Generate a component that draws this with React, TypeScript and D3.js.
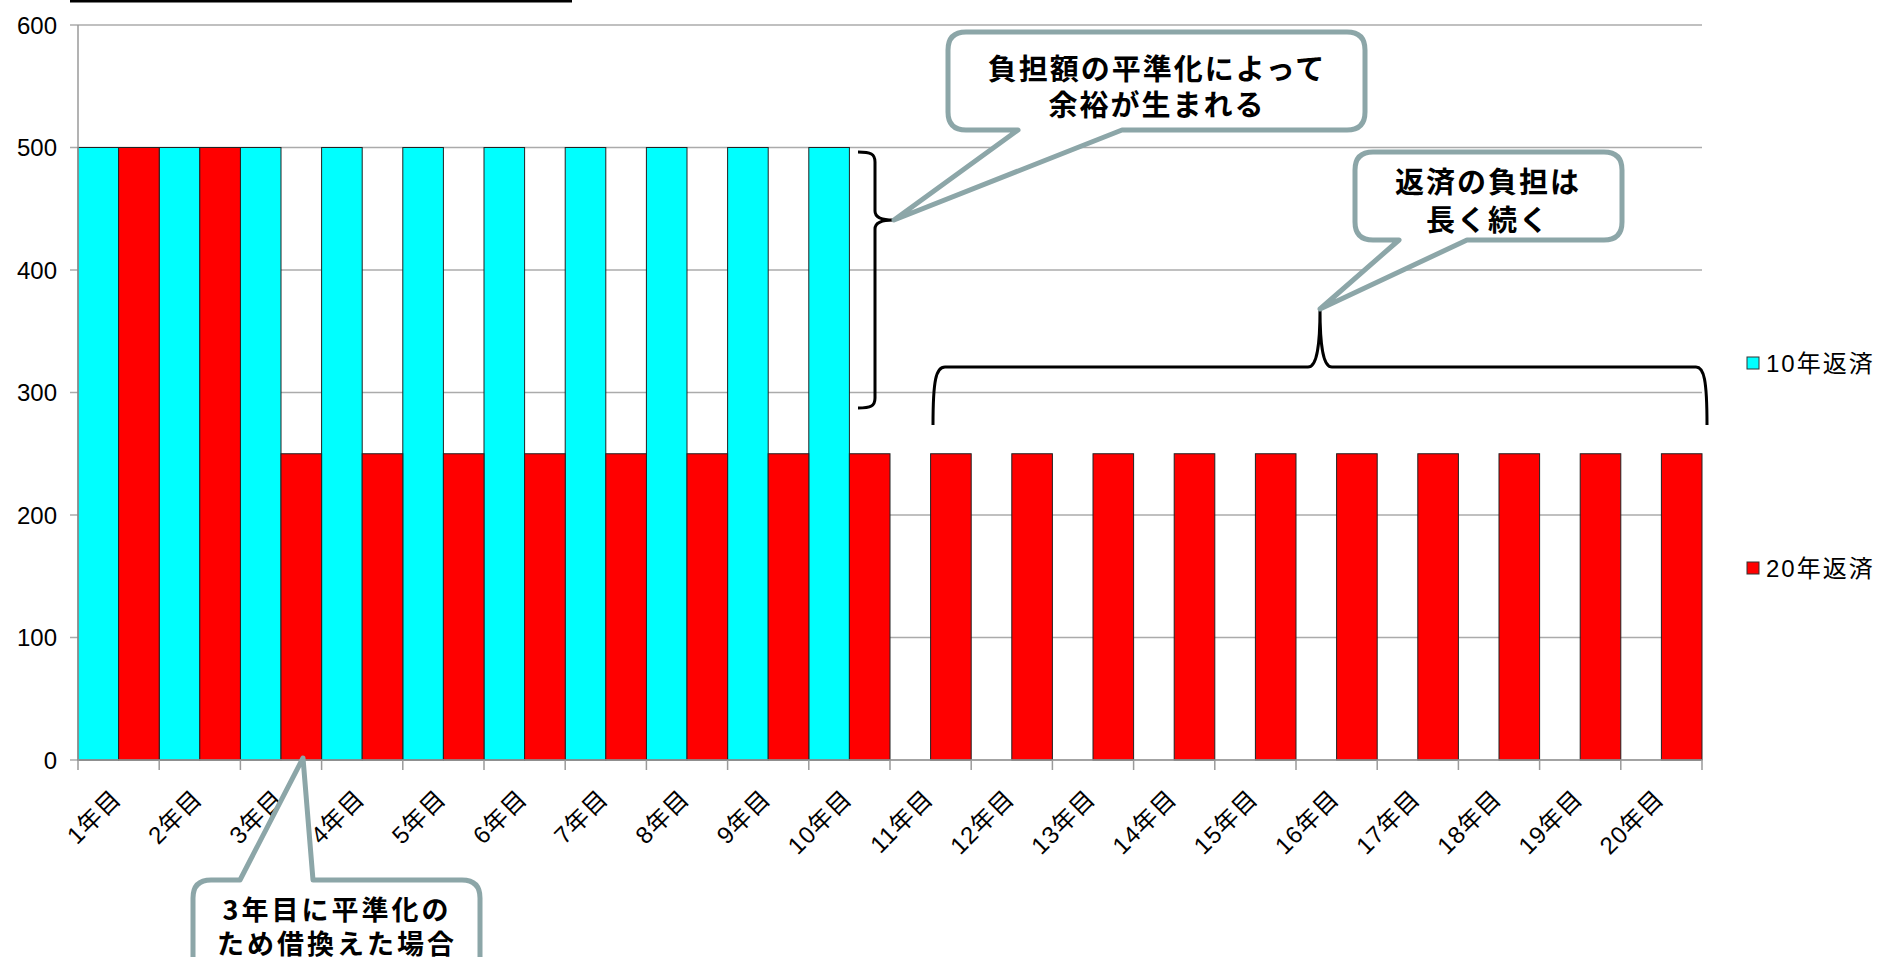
import React from "react";
import * as d3 from "d3";

const categories = ["1年目","2年目","3年目","4年目","5年目","6年目","7年目","8年目","9年目","10年目","11年目","12年目","13年目","14年目","15年目","16年目","17年目","18年目","19年目","20年目"];
const seriesNames = ["10年返済", "20年返済"];
const values10 = [500,500,500,500,500,500,500,500,500,500,null,null,null,null,null,null,null,null,null,null];
const values20 = [500,500,250,250,250,250,250,250,250,250,250,250,250,250,250,250,250,250,250,250];
const seriesColors = ["#00FFFF", "#FF0000"];
const yTicks = [0,100,200,300,400,500,600];
const callout1Lines = ["負担額の平準化によって", "余裕が生まれる"];
const callout2Lines = ["返済の負担は", "長く続く"];
const callout3Lines = ["3年目に平準化の", "ため借換えた場合"];

const W = 1882, H = 957;
const PL = 78, PR = 1702, PT = 25, PB = 760;
const CALLOUT_STROKE = "#8CA6A8";
const AXIS_FONT = "'Liberation Sans', Arial, 'Noto Sans CJK JP', sans-serif";
const CJK_BOLD = "'Noto Sans CJK JP', sans-serif";

function calloutBottomTail(x0: number, y0: number, x1: number, y1: number, r: number, b1: number, b2: number, tx: number, ty: number) {
  return `M${x0 + r},${y0} H${x1 - r} Q${x1},${y0} ${x1},${y0 + r} V${y1 - r} Q${x1},${y1} ${x1 - r},${y1} H${b2} L${tx},${ty} L${b1},${y1} H${x0 + r} Q${x0},${y1} ${x0},${y1 - r} V${y0 + r} Q${x0},${y0} ${x0 + r},${y0} Z`;
}
function calloutTopTail(x0: number, y0: number, x1: number, y1: number, r: number, b1: number, b2: number, tx: number, ty: number) {
  return `M${x0 + r},${y0} H${b1} L${tx},${ty} L${b2},${y0} H${x1 - r} Q${x1},${y0} ${x1},${y0 + r} V${y1 - r} Q${x1},${y1} ${x1 - r},${y1} H${x0 + r} Q${x0},${y1} ${x0},${y1 - r} V${y0 + r} Q${x0},${y0} ${x0 + r},${y0} Z`;
}

export default function App() {
  const x = d3.scaleBand<string>().domain(categories).range([PL, PR]).paddingInner(0).paddingOuter(0);
  const xs = d3.scaleBand<string>().domain(seriesNames).range([0, x.bandwidth()]).padding(0);
  const y = d3.scaleLinear().domain([0, 600]).range([PB, PT]);
  const series = [values10, values20];

  const boundaries = categories.map((c) => x(c)!).concat([PR]);

  const bigText = { fontFamily: CJK_BOLD, fontWeight: 700, fontSize: 29, letterSpacing: 2 } as React.CSSProperties;
  const smallText = { fontFamily: CJK_BOLD, fontWeight: 700, fontSize: 27, letterSpacing: 3 } as React.CSSProperties;

  return (
    <svg width={W} height={H} style={{ position: "absolute", left: 0, top: 0, background: "#fff" }}>
      <line x1={70} x2={572} y1={1} y2={1} stroke="#000" strokeWidth={3} />
      {yTicks.map((t) => (
        <line key={"g" + t} x1={70} x2={PR} y1={y(t)} y2={y(t)} stroke="#ABABAB" strokeWidth={1.5} />
      ))}
      {yTicks.map((t) => (
        <text key={"yl" + t} x={57} y={y(t)} textAnchor="end" dominantBaseline="central" fontFamily={AXIS_FONT} fontSize={24} fill="#000">{t}</text>
      ))}
      {series.map((vals, si) =>
        categories.map((c, i) => {
          const v = vals[i];
          if (v == null) return null;
          return (
            <rect key={si + "-" + c} x={x(c)! + xs(seriesNames[si])!} y={y(v)} width={xs.bandwidth()} height={PB - y(v)}
              fill={seriesColors[si]} stroke="#222" strokeWidth={1} />
          );
        })
      )}
      <line x1={PL} x2={PL} y1={PT} y2={PB} stroke="#9A9A9A" strokeWidth={1.5} />
      <line x1={PL} x2={PR} y1={PB} y2={PB} stroke="#9A9A9A" strokeWidth={1.5} />
      {boundaries.map((b, i) => (
        <line key={"xt" + i} x1={b} x2={b} y1={PB} y2={PB + 10} stroke="#9A9A9A" strokeWidth={1.5} />
      ))}
      {categories.map((c) => {
        const px = x(c)! + x.bandwidth() / 2 - 2;
        const py = 794;
        return (
          <text key={"xl" + c} x={px} y={py} textAnchor="end" dominantBaseline="central" fontFamily={AXIS_FONT} fontSize={24}
            letterSpacing={1} transform={`rotate(-45 ${px} ${py})`} fill="#000">{c}</text>
        );
      })}
      {seriesNames.map((s, i) => {
        const ly = i === 0 ? 363 : 568;
        return (
          <g key={"lg" + s}>
            <rect x={1747} y={ly - 6} width={12} height={12} fill={seriesColors[i]} stroke="#333" strokeWidth={1} />
            <text x={1766} y={ly} dominantBaseline="central" fontFamily={AXIS_FONT} fontSize={24} letterSpacing={2} fill="#000">{s}</text>
          </g>
        );
      })}
      <path d="M858,152 C871,152 875,154 875,162 V211 C875,217 880,220 893,220 C880,220 875,223 875,229 V398 C875,406 871,408 858,408"
        fill="none" stroke="#000" strokeWidth={3} />
      <path d="M933,425 C933,380 936,367 945,367 H1308 C1316,367 1320,350 1320,309 C1320,350 1324,367 1332,367 H1696 C1704,367 1707,380 1707,425"
        fill="none" stroke="#000" strokeWidth={3} />
      <path d={calloutBottomTail(948, 32, 1365, 130, 18, 1018, 1122, 894, 220)} fill="#fff" stroke={CALLOUT_STROKE} strokeWidth={5} strokeLinejoin="round" />
      <path d={calloutBottomTail(1355, 152, 1622, 240, 18, 1399, 1467, 1320, 309)} fill="#fff" stroke={CALLOUT_STROKE} strokeWidth={5} strokeLinejoin="round" />
      <path d={calloutTopTail(193, 880, 480, 1010, 18, 240, 313, 303, 758)} fill="#fff" stroke={CALLOUT_STROKE} strokeWidth={5} strokeLinejoin="round" />
      {callout1Lines.map((l, i) => (
        <text key={"c1" + i} x={1157} y={[67, 103][i]} textAnchor="middle" dominantBaseline="central" style={bigText}>{l}</text>
      ))}
      {callout2Lines.map((l, i) => (
        <text key={"c2" + i} x={1488} y={[180, 218][i]} textAnchor="middle" dominantBaseline="central" style={bigText}>{l}</text>
      ))}
      {callout3Lines.map((l, i) => (
        <text key={"c3" + i} x={337} y={[908, 942][i]} textAnchor="middle" dominantBaseline="central" style={smallText}>{l}</text>
      ))}
    </svg>
  );
}
